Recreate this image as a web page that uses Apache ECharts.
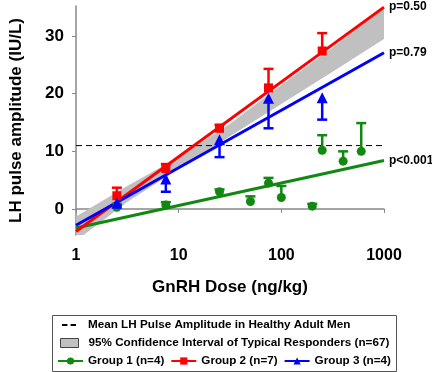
<!DOCTYPE html>
<html lang="en">
<head>
<meta charset="UTF-8">
<title>GnRH dose response</title>
<style>
    * { margin: 0; padding: 0; }
    #main { width: 432px; height: 372px; }
</style>
</head>
<body>
<div id="main"></div>
<script src="https://cdn.jsdelivr.net/npm/echarts@6/dist/echarts.min.js"></script>
<script>
    // doses (ng/kg) and group means / error bar ends (IU/L)
    let g1Dose = [2.5, 7.5, 25, 50, 75, 100, 200, 250, 400, 600];
    let g1Mean = [0.3, 0.7, 3.0, 1.3, 4.5, 2.0, 0.5, 10.2, 8.3, 10.0];
    let g1Err = [0.9, 1.2, 3.4, 2.2, 5.4, 4.0, 0.9, 12.8, 10.0, 14.9];

    let g2Dose = [2.5, 7.5, 25, 75, 250];
    let g2Mean = [2.3, 7.0, 14.0, 21.0, 27.4];
    let g2Err = [3.7, 7.8, 14.6, 24.3, 30.5];

    let g3Dose = [2.5, 7.5, 25, 75, 250];
    let g3Mean = [1.0, 5.2, 12.0, 19.2, 19.3];
    let g3Err = [0.6, 3.0, 9.0, 14.0, 15.5];

    // fitted lines, read at both ends of the axis
    let fitDose = [1, 1000];
    let fitG1 = [-3.3, 8.4];
    let fitG2 = [-3.9, 35.0];
    let fitG3 = [-2.8, 27.1];
    let pLabels = ['p<0.001', 'p=0.50', 'p=0.79'];

    // 95% CI band of typical responders
    let ciDose = [1, 3.16, 10, 31.6, 100, 316, 1000];
    let ciUpper = [-1.3, 4.0, 9.0, 14.8, 21.5, 28.0, 35.0];
    let ciLower = [-5.5, 1.2, 7.0, 12.6, 18.2, 23.8, 29.5];

    let meanLH = 11;
    let yTicks = [0, 10, 20, 30];

    let names = {
        mean: 'Mean LH Pulse Amplitude in Healthy Adult Men',
        ci: '95% Confidence Interval of Typical Responders (n=67)',
        g1: 'Group 1 (n=4)',
        g2: 'Group 2 (n=7)',
        g3: 'Group 3 (n=4)'
    };
    let colors = { g1: '#118811', g2: '#ff0000', g3: '#0000ff' };

    function pairs(xs, ys) {
        return xs.map((x, i) => [x, ys[i]]);
    }

    function fitLine(name, ys, color, label, symbol) {
        return {
            name: name,
            type: 'line',
            data: pairs(fitDose, ys),
            symbol: symbol,
            symbolSize: 8,
            showSymbol: false,
            itemStyle: { color: color },
            lineStyle: { color: color, width: 3 },
            z: 3,
            endLabel: {
                show: true,
                formatter: label,
                color: '#000',
                fontWeight: 'bold',
                fontSize: 12,
                fontFamily: 'Liberation Sans',
                distance: 5
            }
        };
    }

    function errorBars(dose, mean, err, color) {
        return {
            type: 'custom',
            z: 4,
            data: dose.map((d, i) => [d, mean[i], err[i]]),
            renderItem: function (params, api) {
                let p0 = api.coord([api.value(0), api.value(1)]);
                let p1 = api.coord([api.value(0), api.value(2)]);
                let st = { stroke: color, lineWidth: 2.5 };
                return {
                    type: 'group',
                    children: [
                        { type: 'line', shape: { x1: p0[0], y1: p0[1], x2: p1[0], y2: p1[1] }, style: st },
                        { type: 'line', shape: { x1: p1[0] - 5, y1: p1[1], x2: p1[0] + 5, y2: p1[1] }, style: st }
                    ]
                };
            }
        };
    }

    function points(dose, mean, color, symbol, size) {
        return {
            type: 'scatter',
            data: pairs(dose, mean),
            symbol: symbol,
            symbolSize: size,
            itemStyle: { color: color, opacity: 1 },
            z: 5
        };
    }

    let legendText = { color: '#000', fontWeight: 'bold', fontSize: 11.7, fontFamily: 'Liberation Sans' };

    let option = {
        animation: false,
        textStyle: { fontFamily: 'Liberation Sans' },
        grid: { left: 63, right: 48, top: 6, bottom: 137 },
        xAxis: {
            type: 'log',
            logBase: 10,
            min: 1,
            max: 1000,
            name: 'GnRH Dose (ng/kg)',
            nameLocation: 'middle',
            nameGap: 44,
            nameTextStyle: { color: '#000', fontWeight: 'bold', fontSize: 17 },
            axisLine: { lineStyle: { color: '#888', width: 1.5 } },
            axisTick: { length: 4, lineStyle: { color: '#888' } },
            minorTick: { show: false },
            splitLine: { show: false },
            axisLabel: {
                color: '#000', fontWeight: 'bold', fontSize: 16, margin: 13,
                formatter: v => String(Math.round(v))
            }
        },
        yAxis: {
            type: 'value',
            min: -4.5,
            max: 35.2,
            name: 'LH pulse amplitude (IU/L)',
            nameLocation: 'middle',
            nameGap: 51,
            nameTextStyle: { color: '#000', fontWeight: 'bold', fontSize: 17 },
            axisLine: { show: true, lineStyle: { color: '#888', width: 1.5 } },
            axisTick: { show: true, length: 4, customValues: yTicks, lineStyle: { color: '#888' } },
            splitLine: { show: false },
            axisLabel: { color: '#000', fontWeight: 'bold', fontSize: 17, margin: 12, customValues: yTicks }
        },
        legend: [
            {
                left: 62, top: 319, padding: 0, itemWidth: 14, itemHeight: 3,
                textStyle: Object.assign({ padding: [0, 0, 0, 7] }, legendText),
                data: [{ name: names.mean, icon: 'path://M0,0H5V2H0Z M8,0H13V2H8Z' }]
            },
            {
                left: 60, top: 337, padding: 0, itemWidth: 18, itemHeight: 9,
                textStyle: Object.assign({ padding: [0, 0, 0, 5] }, legendText),
                data: [{ name: names.ci, icon: 'rect', itemStyle: { color: '#c0c0c0', borderColor: '#444', borderWidth: 1 } }]
            },
            {
                left: 57, top: 355, padding: 0, itemWidth: 25, itemHeight: 9, itemGap: 6,
                textStyle: legendText,
                data: [names.g1, names.g2, names.g3]
            }
        ],
        graphic: [{
            type: 'rect',
            shape: { x: 52.5, y: 315.5, width: 344, height: 56 },
            style: { fill: 'none', stroke: '#555', lineWidth: 1 }
        }],
        series: [
            {
                name: names.ci,
                type: 'custom',
                clip: true,
                z: 1,
                itemStyle: { color: '#c0c0c0' },
                data: [0],
                renderItem: function (params, api) {
                    let top = ciDose.map((d, i) => api.coord([d, ciUpper[i]]));
                    let bottom = ciDose.map((d, i) => api.coord([d, ciLower[i]])).reverse();
                    return {
                        type: 'polygon',
                        shape: { points: top.concat(bottom) },
                        style: { fill: '#c0c0c0' }
                    };
                }
            },
            {
                name: names.mean,
                type: 'line',
                data: pairs(fitDose, [meanLH, meanLH]),
                symbol: 'none',
                itemStyle: { color: '#000' },
                lineStyle: { color: '#000', width: 1, type: [6, 4] },
                z: 2
            },
            fitLine(names.g1, fitG1, colors.g1, pLabels[0], 'circle'),
            fitLine(names.g2, fitG2, colors.g2, pLabels[1], 'rect'),
            fitLine(names.g3, fitG3, colors.g3, pLabels[2], 'triangle'),
            errorBars(g1Dose, g1Mean, g1Err, colors.g1),
            errorBars(g2Dose, g2Mean, g2Err, colors.g2),
            errorBars(g3Dose, g3Mean, g3Err, colors.g3),
            points(g1Dose, g1Mean, colors.g1, 'circle', 9),
            points(g2Dose, g2Mean, colors.g2, 'rect', 9),
            points(g3Dose, g3Mean, colors.g3, 'triangle', 11)
        ]
    };

    let myChart = echarts.init(document.getElementById('main'));
    myChart.setOption(option);
</script>
</body>
</html>
